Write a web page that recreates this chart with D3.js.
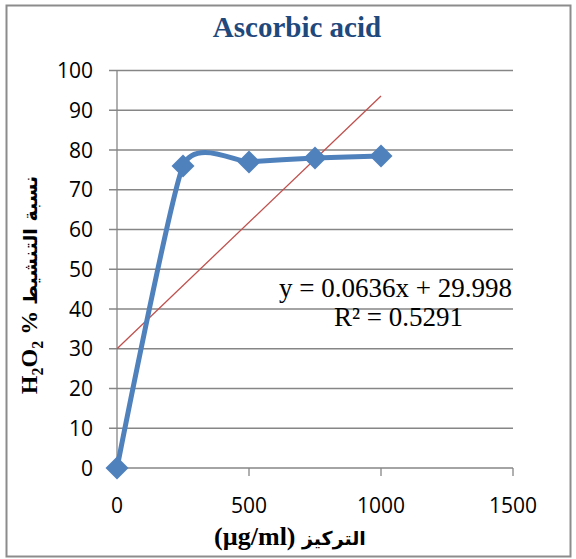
<!DOCTYPE html>
<html><head><meta charset="utf-8">
<script src="https://cdn.jsdelivr.net/npm/d3@7"></script>
<style>html,body{margin:0;padding:0;background:#fff;}</style>
</head><body>
<svg id="c" width="576" height="559"></svg>
<script>
const concentrations = [0, 250, 500, 750, 1000];
const activity = [0, 76, 77, 78, 78.5];
const xTicks = [0, 500, 1000, 1500];
const yTicks = [0, 10, 20, 30, 40, 50, 60, 70, 80, 90, 100];
const slope = 0.0636, intercept = 29.998;
const trendRange = [0, 1000];
const titleText = "Ascorbic acid";
const eqText = "y = 0.0636x + 29.998";
const r2Text = "R² = 0.5291";

const serif = "'Liberation Serif', 'Times New Roman', serif";
const sans = "'Open Sans', Carlito, 'Liberation Sans', sans-serif";
const arab = "'DejaVu Sans', 'Noto Sans', sans-serif";

const svg = d3.select("#c");
svg.append("rect").attr("x",6.5).attr("y",5.5).attr("width",564).attr("height",551)
  .attr("fill","#fff").attr("stroke","#8c8c8c").attr("stroke-width",2);

const x = d3.scaleLinear().domain([0,1500]).range([117,513]);
const y = d3.scaleLinear().domain([0,100]).range([468,70.5]);

// gridlines
svg.append("g").selectAll("line").data(yTicks).join("line")
  .attr("x1",109).attr("x2",x(1500)).attr("y1",d=>y(d)).attr("y2",d=>y(d))
  .attr("stroke","#868686").attr("stroke-width",1.3);
svg.append("line").attr("x1",x(0)).attr("x2",x(0)).attr("y1",y(0)).attr("y2",y(100))
  .attr("stroke","#868686").attr("stroke-width",1.3);
svg.append("g").selectAll("line").data(xTicks).join("line")
  .attr("x1",d=>x(d)).attr("x2",d=>x(d)).attr("y1",y(0)).attr("y2",y(0)+8)
  .attr("stroke","#868686").attr("stroke-width",1.3);

// tick labels
svg.append("g").selectAll("text").data(yTicks).join("text")
  .attr("x",93).attr("y",d=>y(d)+7.5).attr("text-anchor","end")
  .attr("font-family",sans).attr("font-size",21)
  .attr("fill","#000").text(d=>d);
svg.append("g").selectAll("text").data(xTicks).join("text")
  .attr("x",d=>x(d)).attr("y",512.5).attr("text-anchor","middle")
  .attr("font-family",sans).attr("font-size",21)
  .attr("fill","#000").text(d=>d);

// title
svg.append("text").attr("x",297).attr("y",37).attr("text-anchor","middle")
  .attr("font-family",serif).attr("font-weight","bold")
  .attr("font-size",29).attr("fill","#1F497D").text(titleText);

// y axis title
const yt = svg.append("text").attr("transform","translate(37,285) rotate(-90)")
  .attr("text-anchor","middle").attr("font-family",serif)
  .attr("font-weight","bold").attr("font-size",24).attr("fill","#000");
yt.append("tspan").text("H");
yt.append("tspan").attr("dy",6).attr("font-size",16).text("2");
yt.append("tspan").attr("dy",-6).text("O");
yt.append("tspan").attr("dy",6).attr("font-size",16).text("2");
yt.append("tspan").attr("dy",-6).text(" % ");
yt.append("tspan").attr("font-family",arab).attr("font-size",19).text("نسبة التنشيط");

// x axis title
const xt = svg.append("text").attr("x",290).attr("y",545).attr("text-anchor","middle")
  .attr("font-family",serif).attr("font-weight","bold")
  .attr("font-size",26).attr("fill","#000");
xt.append("tspan").text("(µg/ml) ");
xt.append("tspan").attr("font-family",arab).attr("font-size",19).text("التركيز");

// trendline
svg.append("line").attr("x1",x(trendRange[0])).attr("y1",y(slope*trendRange[0]+intercept))
  .attr("x2",x(trendRange[1])).attr("y2",y(slope*trendRange[1]+intercept))
  .attr("stroke","#C0504D").attr("stroke-width",1.3);

// series line
const pts = concentrations.map((c,i)=>[c,activity[i]]);
const line = d3.line().x(d=>x(d[0])).y(d=>y(d[1])).curve(d3.curveCardinal.tension(0.45));
svg.append("path").attr("d",line(pts)).attr("fill","none")
  .attr("stroke","#4F81BD").attr("stroke-width",5).attr("stroke-linejoin","round").attr("stroke-linecap","round");

// markers
svg.append("g").selectAll("path").data(pts).join("path")
  .attr("transform",d=>`translate(${x(d[0])},${y(d[1])})`)
  .attr("d","M0,-11.5L11.5,0L0,11.5L-11.5,0Z").attr("fill","#4F81BD");

// equation
svg.append("text").attr("x",512).attr("y",297).attr("text-anchor","end")
  .attr("font-family",serif).attr("font-size",27)
  .attr("fill","#000").text(eqText);
svg.append("text").attr("x",398.5).attr("y",326).attr("text-anchor","middle")
  .attr("font-family",serif).attr("font-size",27)
  .attr("fill","#000").text(r2Text);
</script>
</body></html>
